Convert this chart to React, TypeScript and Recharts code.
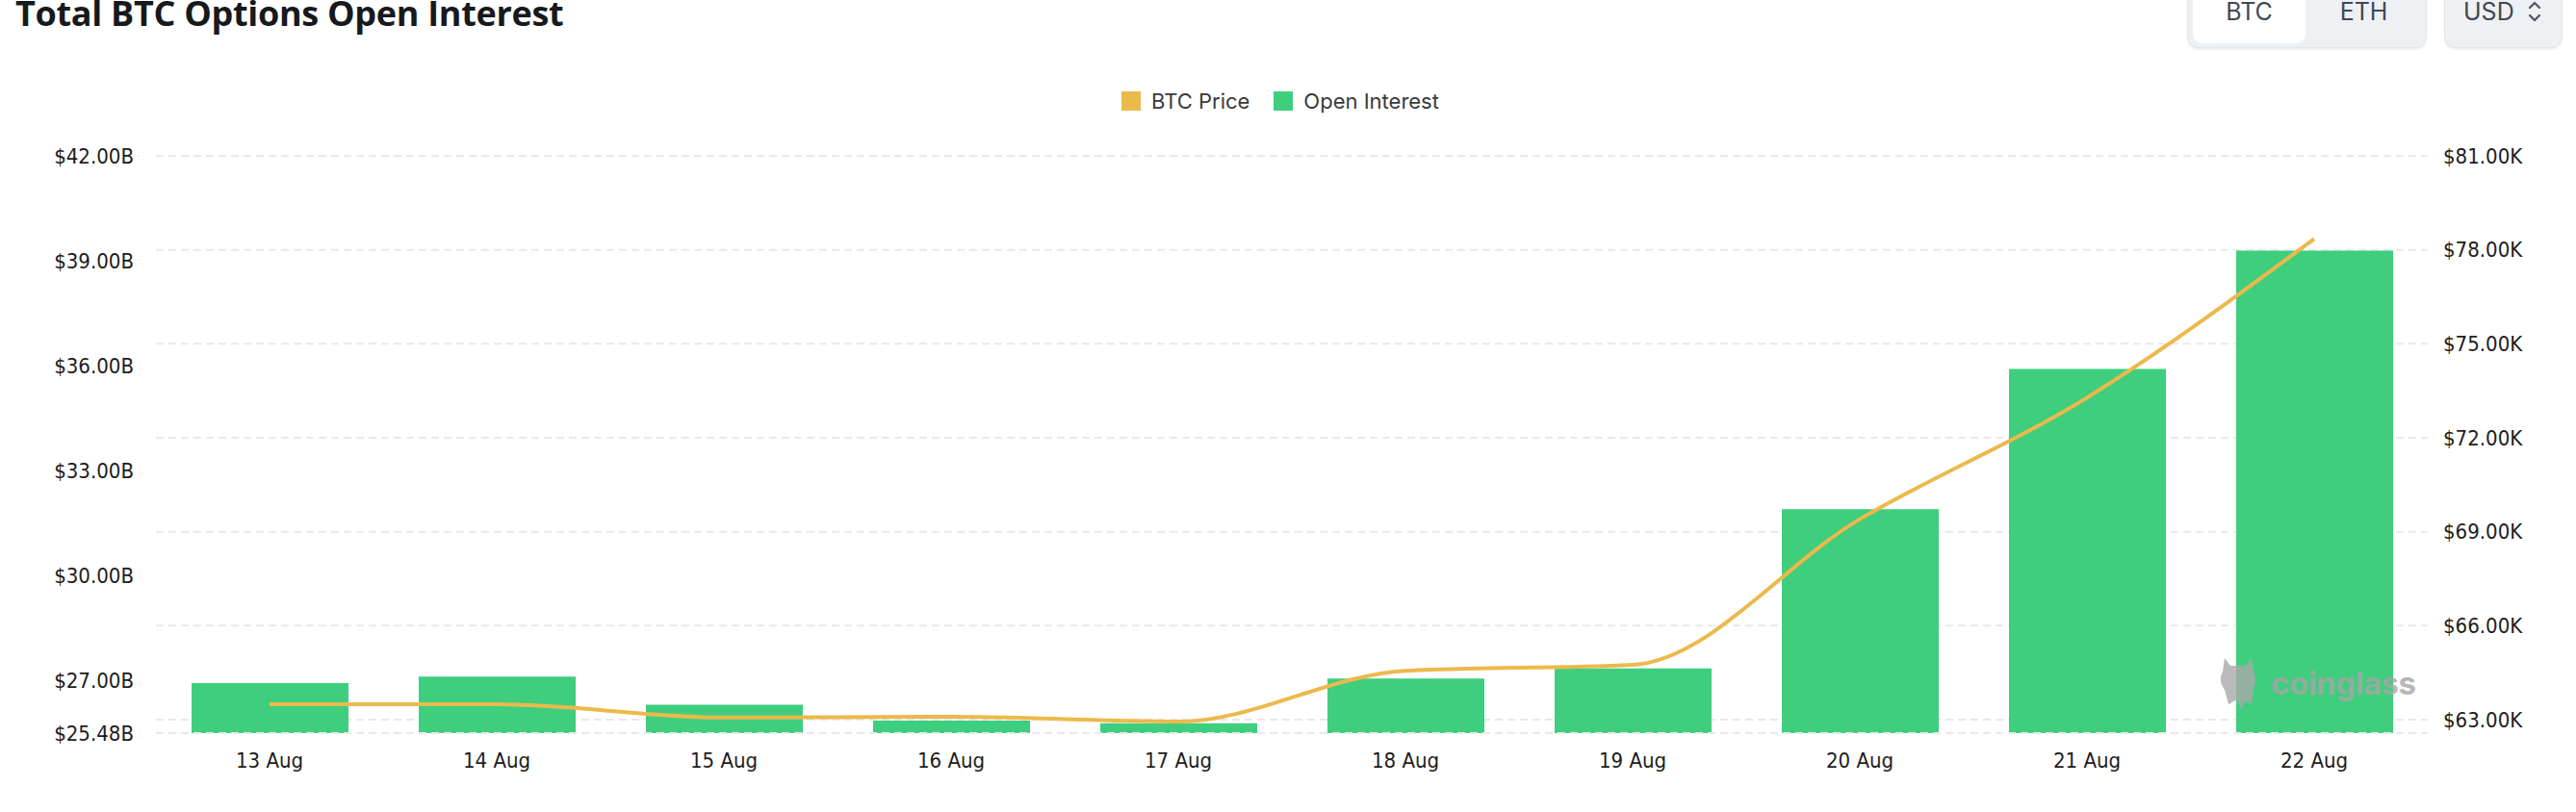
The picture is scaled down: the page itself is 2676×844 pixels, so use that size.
import React from "react";
import {
  ComposedChart,
  Bar,
  Line,
  XAxis,
  YAxis,
  CartesianGrid
} from "recharts";

const dates = ["13 Aug", "14 Aug", "15 Aug", "16 Aug", "17 Aug", "18 Aug", "19 Aug", "20 Aug", "21 Aug", "22 Aug"];
// open interest in billions USD
const openInterest = [26.91, 27.1, 26.29, 25.84, 25.76, 27.04, 27.33, 31.89, 35.9, 39.29];
// btc price in thousands USD
const btcPrice = [63.49, 63.49, 63.07, 63.09, 62.94, 64.56, 64.75, 69.4, 73.28, 78.35];

const oiTicks = [25.48, 27, 30, 33, 36, 39, 42];
const priceTicks = [63, 66, 69, 72, 75, 78, 81];

const data = dates.map((d, i) => ({ date: d, oi: openInterest[i], price: btcPrice[i] }));

const GREEN = "#3fce7e";
const ORANGE = "#ecb94c";
const tickFont = "'DejaVu Sans Condensed', 'Liberation Sans Narrow', sans-serif";
const tickStyle = { fontSize: 22, fill: "#1d1d1d", fontFamily: tickFont };

const Chevron = () => (
  <svg width="14" height="26" viewBox="0 0 14 26">
    <polyline points="2,9 7,4 12,9" fill="none" stroke="#555b64" strokeWidth="2.4" strokeLinecap="round" strokeLinejoin="round" />
    <polyline points="2,17 7,22 12,17" fill="none" stroke="#555b64" strokeWidth="2.4" strokeLinecap="round" strokeLinejoin="round" />
  </svg>
);

export default function App() {
  return (
    <div style={{ position: "absolute", left: 0, top: 0, width: 2676, height: 844, background: "#fff", overflow: "hidden" }}>
      <div
        style={{
          position: "absolute",
          left: 16,
          top: -4,
          fontFamily: "'Open Sans', sans-serif",
          fontWeight: 700,
          fontSize: 36,
          lineHeight: "36px",
          color: "#17191c",
          whiteSpace: "nowrap",
          letterSpacing: -0.3
        }}
      >
        Total BTC Options Open Interest
      </div>

      {/* coin switch */}
      <div
        style={{
          position: "absolute",
          left: 2272,
          top: -12,
          width: 249,
          height: 62,
          boxSizing: "border-box",
          background: "#eef1f4",
          border: "1px solid #e2e5e9",
          borderRadius: 12,
          boxShadow: "0 2px 2px rgba(0,0,0,0.06)",
          fontFamily: "Inter, sans-serif",
          fontSize: 25,
          color: "#424851"
        }}
      >
        <div style={{ position: "absolute", left: 5, top: 0, width: 117, height: 56, background: "#fff", borderRadius: 10 }} />
        <div style={{ position: "absolute", left: 5, top: 8, width: 117, textAlign: "center" }}>BTC</div>
        <div style={{ position: "absolute", left: 124, top: 8, width: 117, textAlign: "center" }}>ETH</div>
      </div>
      <div
        style={{
          position: "absolute",
          left: 2539,
          top: -12,
          width: 123,
          height: 62,
          boxSizing: "border-box",
          background: "#eef1f4",
          border: "1px solid #e2e5e9",
          borderRadius: 12,
          boxShadow: "0 2px 2px rgba(0,0,0,0.06)",
          fontFamily: "Inter, sans-serif",
          fontSize: 25,
          color: "#424851"
        }}
      >
        <div style={{ position: "absolute", left: 19, top: 8 }}>USD</div>
        <div style={{ position: "absolute", left: 86, top: 10 }}>
          <Chevron />
        </div>
      </div>

      {/* legend */}
      <div
        style={{
          position: "absolute",
          left: 1165,
          top: 92,
          display: "flex",
          alignItems: "center",
          fontFamily: "Inter, sans-serif",
          fontSize: 22,
          color: "#3a3a3a",
          height: 26
        }}
      >
        <span style={{ width: 20, height: 20, background: ORANGE, display: "inline-block", marginRight: 11 }} />
        <span style={{ marginRight: 25 }}>BTC Price</span>
        <span style={{ width: 20, height: 20, background: GREEN, display: "inline-block", marginRight: 11 }} />
        <span>Open Interest</span>
      </div>

      <div style={{ position: "absolute", left: 0, top: 0 }}>
        <ComposedChart width={2676} height={844} data={data} margin={{ top: 162, right: 14, bottom: 32, left: 22 }}>
          <CartesianGrid yAxisId="right" vertical={false} stroke="#e9e9e9" strokeDasharray="8 5" strokeWidth={2} />
          <XAxis
            dataKey="date"
            tickLine={false}
            tickSize={0}
            tickMargin={20}
            height={50}
            axisLine={{ stroke: "#e9e9e9", strokeDasharray: "8 5", strokeWidth: 2 }}
            tick={tickStyle}
            interval={0}
          />
          <YAxis
            yAxisId="left"
            orientation="left"
            width={140}
            domain={[25.48, 42]}
            ticks={oiTicks}
            interval={0}
            axisLine={false}
            tickLine={false}
            tickSize={0}
            tickMargin={23}
            tick={tickStyle}
            tickFormatter={(v: number) => `$${v.toFixed(2)}B`}
          />
          <YAxis
            yAxisId="right"
            orientation="right"
            width={140}
            domain={[62.57, 81]}
            ticks={priceTicks}
            interval={0}
            axisLine={false}
            tickLine={false}
            tickSize={0}
            tickMargin={16}
            tick={{ ...tickStyle, textAnchor: "start" }}
            tickFormatter={(v: number) => `$${v.toFixed(2)}K`}
          />
          <Bar yAxisId="left" dataKey="oi" name="Open Interest" fill={GREEN} barSize={163} isAnimationActive={false} />
          <Line
            yAxisId="right"
            dataKey="price"
            name="BTC Price"
            type="monotone"
            stroke={ORANGE}
            strokeWidth={4}
            dot={false}
            activeDot={false}
            isAnimationActive={false}
          />
        </ComposedChart>
      </div>

      {/* watermark */}
      <div
        style={{
          position: "absolute",
          left: 2303,
          top: 682,
          display: "flex",
          alignItems: "center",
          opacity: 0.8,
          pointerEvents: "none"
        }}
      >
        <svg width="44" height="56" viewBox="0 0 44 56">
          <path d="M8 2 L14 10 L30 10 L36 2 L38 16 Q43 25 38 33 L36 50 L29 47 L25 56 L21 45 L12 50 L8 35 Q1 25 6 16 Z" fill="#a9a9a9" />
        </svg>
        <span
          style={{
            marginLeft: 12,
            fontFamily: "Inter, sans-serif",
            fontWeight: 700,
            fontSize: 33,
            color: "#a6a6a6",
            letterSpacing: -0.5
          }}
        >
          coinglass
        </span>
      </div>
    </div>
  );
}
